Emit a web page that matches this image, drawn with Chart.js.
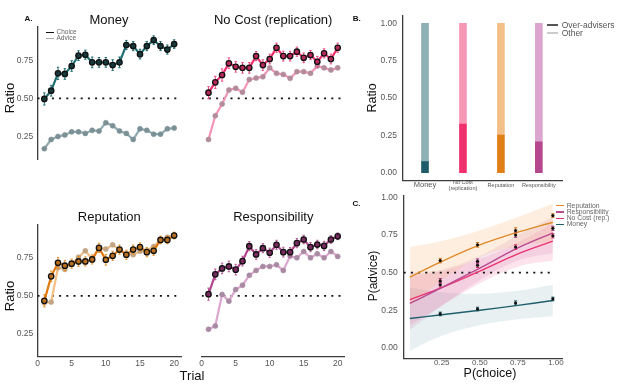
<!DOCTYPE html>
<html><head><meta charset="utf-8">
<script src="https://cdn.jsdelivr.net/npm/chart.js@4.4.1/dist/chart.umd.min.js"></script>
<style>
body{margin:0;background:#fff;}
#wrap{position:relative;width:630px;height:387px;overflow:hidden;font-family:"Liberation Sans",Arial,sans-serif;color:#111;}
canvas{position:absolute;}
.t{position:absolute;white-space:nowrap;transform:translate(-50%,-50%);line-height:1;}
.r{transform:translate(-50%,-50%) rotate(-90deg);}
.lg{position:absolute;white-space:nowrap;transform:translateY(-50%);line-height:1;color:#666;}
.ln{position:absolute;}
</style></head>
<body><div id="wrap">
<canvas id="a1" width="190" height="175" style="left:0;top:0;width:190px;height:175px"></canvas>
<canvas id="a2" width="170" height="175" style="left:190px;top:0;width:170px;height:175px"></canvas>
<canvas id="a3" width="190" height="197" style="left:0;top:190px;width:190px;height:197px"></canvas>
<canvas id="a4" width="170" height="197" style="left:190px;top:190px;width:170px;height:197px"></canvas>
<canvas id="b" width="275" height="195" style="left:355px;top:0;width:275px;height:195px"></canvas>
<canvas id="c" width="275" height="195" style="left:355px;top:192px;width:275px;height:195px"></canvas>

<div class="t" style="left:28.5px;top:18.7px;font-size:8px;font-weight:bold">A.</div>
<div class="t" style="left:356.7px;top:19.3px;font-size:8px;font-weight:bold">B.</div>
<div class="t" style="left:356.5px;top:204.3px;font-size:8px;font-weight:bold">C.</div>

<div class="t" style="left:109px;top:18.5px;font-size:13px">Money</div>
<div class="t" style="left:273.2px;top:18.5px;font-size:13px">No Cost (replication)</div>
<div class="t" style="left:109.3px;top:216px;font-size:13px">Reputation</div>
<div class="t" style="left:273.3px;top:216px;font-size:13px">Responsibility</div>
<div class="t r" style="left:8.5px;top:98px;font-size:13px">Ratio</div>
<div class="t r" style="left:8.5px;top:296px;font-size:13px">Ratio</div>
<div class="t" style="left:192px;top:374.5px;font-size:13px">Trial</div>
<div class="t r" style="left:371.7px;top:98px;font-size:12.5px">Ratio</div>
<div class="t r" style="left:373px;top:276px;font-size:12px">P(advice)</div>
<div class="t" style="left:490px;top:373px;font-size:12.5px">P(choice)</div>

<div class="ln" style="left:45.7px;top:31.6px;width:8.6px;height:1.5px;background:#111"></div>
<div class="lg" style="left:56.5px;top:32.3px;font-size:6.5px">Choice</div>
<div class="ln" style="left:45.7px;top:37.6px;width:8.6px;height:1.5px;background:#aaa"></div>
<div class="lg" style="left:56.5px;top:38.3px;font-size:6.5px">Advice</div>

<div class="ln" style="left:546.7px;top:24px;width:11.3px;height:2px;background:#555"></div>
<div class="lg" style="left:561.7px;top:25px;font-size:8.5px;color:#555">Over-advisers</div>
<div class="ln" style="left:546.7px;top:31.7px;width:11.3px;height:2px;background:#ccc"></div>
<div class="lg" style="left:561.7px;top:32.7px;font-size:8.5px;color:#555">Other</div>

<div class="ln" style="left:555.7px;top:205px;width:8.6px;height:1.4px;background:#E08A2A"></div>
<div class="lg" style="left:566.7px;top:205.7px;font-size:6.8px;color:#666">Reputation</div>
<div class="ln" style="left:555.7px;top:211.3px;width:8.6px;height:1.4px;background:#B84A92"></div>
<div class="lg" style="left:566.7px;top:212px;font-size:6.8px;color:#666">Responsibility</div>
<div class="ln" style="left:555.7px;top:217.6px;width:8.6px;height:1.4px;background:#EC3370"></div>
<div class="lg" style="left:566.7px;top:218.3px;font-size:6.8px;color:#666">No Cost (rep.)</div>
<div class="ln" style="left:555.7px;top:223.6px;width:8.6px;height:1.4px;background:#1F5F6B"></div>
<div class="lg" style="left:566.7px;top:224.3px;font-size:6.8px;color:#666">Money</div>
</div>
<script>
// ---------- Panel A data ----------
const trials = [1,2,3,4,5,6,7,8,9,10,11,12,13,14,15,16,17,18,19,20];
const trialTicks = [0,5,10,15,20];
const ratioTicks = [0.25,0.5,0.75];

const moneyChoice = [0.496,0.55,0.664,0.66,0.712,0.78,0.786,0.736,0.736,0.736,0.718,0.736,0.85,0.843,0.79,0.843,0.882,0.843,0.82,0.856];
const moneyChoiceErr = [0.04,0.035,0.04,0.035,0.035,0.032,0.03,0.035,0.032,0.032,0.035,0.035,0.03,0.03,0.032,0.03,0.028,0.03,0.03,0.028];
const moneyAdvice = [0.17,0.23,0.25,0.26,0.28,0.28,0.27,0.29,0.285,0.34,0.32,0.285,0.27,0.23,0.30,0.29,0.265,0.265,0.30,0.305];

const noCostChoice = [0.537,0.605,0.653,0.73,0.707,0.70,0.70,0.777,0.718,0.758,0.832,0.777,0.777,0.806,0.766,0.784,0.74,0.795,0.758,0.832];
const noCostChoiceErr = [0.04,0.04,0.04,0.035,0.035,0.035,0.035,0.03,0.035,0.032,0.03,0.032,0.032,0.03,0.032,0.03,0.035,0.03,0.032,0.03];
const noCostAdvice = [0.23,0.386,0.463,0.555,0.566,0.54,0.624,0.633,0.642,0.70,0.664,0.657,0.631,0.675,0.675,0.664,0.712,0.70,0.686,0.70];

const reputationChoice = [0.467,0.628,0.717,0.698,0.711,0.726,0.726,0.739,0.815,0.737,0.763,0.804,0.77,0.804,0.82,0.787,0.796,0.867,0.867,0.896];
const reputationChoiceErr = [0.04,0.035,0.035,0.035,0.03,0.032,0.03,0.03,0.03,0.035,0.03,0.03,0.03,0.03,0.028,0.03,0.03,0.025,0.025,0.022];
const reputationAdvice = [0.454,0.459,0.685,0.674,0.711,0.754,0.796,0.743,0.815,0.807,0.835,0.804,0.776,0.77,0.793,0.798,0.824,0.867,0.885,0.90];

const responsibilityChoice = [0.511,0.641,0.68,0.693,0.672,0.728,0.826,0.772,0.813,0.783,0.835,0.787,0.787,0.846,0.87,0.82,0.837,0.828,0.87,0.891];
const responsibilityChoiceErr = [0.04,0.035,0.035,0.035,0.035,0.032,0.03,0.032,0.03,0.03,0.03,0.032,0.03,0.03,0.028,0.03,0.028,0.03,0.025,0.022];
const responsibilityAdvice = [0.28,0.302,0.509,0.465,0.541,0.57,0.635,0.667,0.693,0.693,0.704,0.667,0.761,0.75,0.791,0.75,0.776,0.75,0.791,0.759];

// ---------- Panel B data ----------
const groups = ['Money','No Cost (replication)','Reputation','Responsibility'];
const groupPos = [1,2,3,4];
const overAdvisers = [0.074,0.326,0.252,0.207];
const otherShare = [0.926,0.674,0.748,0.793];
const shareTicks = [0,0.25,0.5,0.75,1];

// ---------- Panel C data ----------
const pChoiceTicks = [0.25,0.5,0.75,1];
const pAdviceTicks = [0,0.25,0.5,0.75,1];
const pChoiceObs = [0.24,0.485,0.735,0.98];
const obsReputation = [0.58,0.685,0.78,0.88];
const obsReputationErr = [0.015,0.015,0.018,0.012];
const obsResponsibility = [0.445,0.575,0.75,0.795];
const obsResponsibilityErr = [0.016,0.016,0.015,0.014];
const obsNoCost = [0.42,0.55,0.67,0.745];
const obsNoCostErr = [0.016,0.016,0.015,0.014];
const obsMoney = [0.225,0.258,0.298,0.325];
const obsMoneyErr = [0.012,0.012,0.014,0.012];

const pChoiceFit = [0.04,0.25,0.5,0.75,0.98];
const fitReputation = [0.47,0.575,0.685,0.77,0.835];
const fitResponsibility = [0.295,0.40,0.53,0.665,0.765];
const fitNoCost = [0.32,0.40,0.51,0.625,0.71];
const fitMoney = [0.195,0.22,0.25,0.282,0.315];
const bandReputationLo = [0.28,0.45,0.60,0.68,0.70];
const bandReputationHi = [0.67,0.71,0.78,0.87,0.96];
const bandResponsibilityLo = [0.12,0.28,0.45,0.58,0.63];
const bandResponsibilityHi = [0.50,0.52,0.61,0.75,0.87];
const bandNoCostLo = [0.15,0.28,0.43,0.54,0.58];
const bandNoCostHi = [0.48,0.51,0.59,0.70,0.83];
const bandMoneyLo = [-0.02,0.08,0.15,0.19,0.21];
const bandMoneyHi = [0.40,0.37,0.36,0.38,0.42];

// ---------- helpers ----------
const xy = (xs, ys) => xs.map((x, i) => ({x: x, y: ys[i]}));

const errorBarPlugin = {
  id: 'errBars',
  beforeDatasetDraw(chart, args) {
    const ds = chart.data.datasets[args.index];
    if (!ds.errors) return;
    const ys = chart.scales.y, ctx = chart.ctx;
    ctx.save();
    ctx.strokeStyle = ds.errorColor;
    ctx.lineWidth = ds.errorWidth || 1;
    args.meta.data.forEach((pt, i) => {
      const v = ds.data[i].y, e = ds.errors[i];
      const y1 = ys.getPixelForValue(v - e), y2 = ys.getPixelForValue(v + e);
      const x = pt.x, c = ds.errorCap || 0;
      ctx.beginPath();
      ctx.moveTo(x, y1); ctx.lineTo(x, y2);
      if (c) { ctx.moveTo(x - c, y1); ctx.lineTo(x + c, y1); ctx.moveTo(x - c, y2); ctx.lineTo(x + c, y2); }
      ctx.stroke();
    });
    ctx.restore();
  }
};
Chart.register(errorBarPlugin);
Chart.defaults.font.family = '"Liberation Sans", Arial, sans-serif';
Chart.defaults.color = '#555';
Chart.defaults.animation = false;
Chart.defaults.plugins.legend.display = false;
Chart.defaults.plugins.tooltip.enabled = false;
Chart.defaults.events = [];

const axisBorder = {display: true, color: '#3d3d3d', width: 1.3};
const noGrid = {display: false, drawTicks: false};

function trialPanel(id, cfg) {
  const y = cfg.showY ? {
    display: true, min: 0.1, max: 0.97,
    afterBuildTicks: s => { s.ticks = ratioTicks.map(v => ({value: v})); },
    afterFit: s => { s.width = 37.5; s.paddingTop = 0; s.paddingBottom = 0; },
    grid: noGrid, border: axisBorder,
    ticks: {padding: 4.2, font: {size: 8.5}, color: '#555', callback: v => v.toFixed(2)}
  } : {display: false, min: 0.1, max: 0.97};
  const x = cfg.showX ? {
    type: 'linear', display: true, min: 0, max: 21,
    afterBuildTicks: s => { s.ticks = trialTicks.map(v => ({value: v})); },
    afterFit: s => { s.height = 30.3; s.paddingLeft = 0; s.paddingRight = 0; },
    grid: noGrid, border: axisBorder,
    ticks: {padding: 1.5, font: {size: 8.5}, color: '#555', maxRotation: 0, autoSkip: false}
  } : {type: 'linear', display: false, min: 0, max: 21};
  new Chart(document.getElementById(id), {
    type: 'line',
    data: {datasets: [
      {data: xy(trials, cfg.choice), errors: cfg.choiceErr, errorColor: cfg.errColor, errorWidth: 1, errorCap: 1.2,
       borderColor: cfg.choiceLine, borderWidth: 2.2, pointRadius: 2.7, pointBorderWidth: 1.3,
       pointBorderColor: '#111', pointBackgroundColor: cfg.choiceFill, order: 0},
      {data: xy(trials, cfg.advice), borderColor: cfg.adviceLine, borderWidth: 2.2, pointRadius: 2.5,
       pointBorderWidth: 0.6, pointBorderColor: cfg.adviceMark, pointBackgroundColor: cfg.adviceMark, order: 1},
      {data: [{x: 0, y: 0.5}, {x: 21, y: 0.5}], borderColor: '#111', borderWidth: 1.8, borderDash: [2, 5.2],
       pointRadius: 0, order: 3}
    ]},
    options: {responsive: false, devicePixelRatio: 1, layout: {padding: cfg.pad}, scales: {x: x, y: y}}
  });
}

trialPanel('a1', {choice: moneyChoice, choiceErr: moneyChoiceErr, advice: moneyAdvice,
  choiceLine: '#1F6E72', choiceFill: '#17393C', errColor: '#1F6E72', adviceLine: '#8FAAB0', adviceMark: '#7C9196',
  showY: true, showX: false, pad: {left: 0, top: 26.7, right: 9, bottom: 15.7}});
trialPanel('a2', {choice: noCostChoice, choiceErr: noCostChoiceErr, advice: noCostAdvice,
  choiceLine: '#EC2F6B', choiceFill: '#B8285A', errColor: '#EE4C80', adviceLine: '#F494B8', adviceMark: '#B28C9B',
  showY: false, showX: false, pad: {left: 11.7, top: 26.7, right: 15.5, bottom: 15.7}});
trialPanel('a3', {choice: reputationChoice, choiceErr: reputationChoiceErr, advice: reputationAdvice,
  choiceLine: '#E07A10', choiceFill: '#B8701F', errColor: '#E8932E', adviceLine: '#F4BE85', adviceMark: '#C2A683',
  showY: true, showX: true, pad: {left: 0, top: 34.3, right: 9, bottom: 0}});
trialPanel('a4', {choice: responsibilityChoice, choiceErr: responsibilityChoiceErr, advice: responsibilityAdvice,
  choiceLine: '#B0468C', choiceFill: '#7A2A60', errColor: '#B95A98', adviceLine: '#DCA6CF', adviceMark: '#A98AA3',
  showY: false, showX: true, pad: {left: 11.7, top: 34.3, right: 15.5, bottom: 0}});

// ---------- Panel B ----------
const darkCols = ['#1F5D6B', '#F0306D', '#E07F16', '#B5478E'];
const lightCols = ['#8DB0B5', '#F797B6', '#F1BF87', '#DBA5CF'];
new Chart(document.getElementById('b'), {
  type: 'bar',
  data: {datasets: [
    {label: 'Over-advisers', data: xy(groupPos, overAdvisers), backgroundColor: darkCols, barThickness: 7, stack: 's'},
    {label: 'Other', data: xy(groupPos, otherShare), backgroundColor: lightCols, barThickness: 7, stack: 's'}
  ]},
  options: {
    responsive: false, devicePixelRatio: 1,
    layout: {padding: {left: 0, top: 15.8, right: 68, bottom: 0}},
    scales: {
      x: {type: 'linear', stacked: true, min: 0.42, max: 4.61, offset: false,
        afterBuildTicks: s => { s.ticks = groupPos.map(v => ({value: v})); },
        afterFit: s => { s.height = 14.8; s.paddingLeft = 0; s.paddingRight = 0; },
        grid: noGrid, border: axisBorder,
        ticks: {padding: 0, maxRotation: 0, autoSkip: false, color: '#555',
          font: ctx => {
            const v = ctx.tick ? ctx.tick.value : 1;
            if (v === 1) return {size: 7.5, lineHeight: 1.25};
            if (v === 2) return {size: 5.5, lineHeight: 1.0};
            return {size: 5.5, lineHeight: 2.0};
          },
          callback: v => {
            const g = groups[groupPos.indexOf(v)] || '';
            const k = g.indexOf(' (');
            return k > 0 ? [g.slice(0, k), g.slice(k + 1)] : g;
          }}},
      y: {stacked: true, min: -0.05, max: 1.05,
        afterBuildTicks: s => { s.ticks = shareTicks.map(v => ({value: v})); },
        afterFit: s => { s.width = 48; s.paddingTop = 0; s.paddingBottom = 0; },
        grid: noGrid, border: axisBorder,
        ticks: {padding: 6, font: {size: 8.5}, color: '#555', callback: v => v.toFixed(2)}}
    }
  }
});

// ---------- Panel C ----------
function fitLine(ys, col) {
  return {data: xy(pChoiceFit, ys), borderColor: col, borderWidth: 1.4, pointRadius: 0, tension: 0.35, fill: false, order: 1};
}
function band(ys, col, target) {
  return {data: xy(pChoiceFit, ys), borderWidth: 0, borderColor: 'rgba(0,0,0,0)', pointRadius: 0, tension: 0.35,
    fill: target === undefined ? false : {target: target}, backgroundColor: col, order: 10};
}
function obs(ys, errs, col) {
  return {data: xy(pChoiceObs, ys), showLine: false, pointRadius: 1.6, pointBackgroundColor: '#111',
    pointBorderColor: '#111', pointBorderWidth: 0, errors: errs, errorColor: col, errorWidth: 1, errorCap: 1.6, order: 0};
}
new Chart(document.getElementById('c'), {
  type: 'line',
  data: {datasets: [
    obs(obsReputation, obsReputationErr, '#C87418'),
    obs(obsResponsibility, obsResponsibilityErr, '#A03A7E'),
    obs(obsNoCost, obsNoCostErr, '#D62A62'),
    obs(obsMoney, obsMoneyErr, '#1F5F6B'),
    fitLine(fitReputation, '#E08A2A'),
    fitLine(fitResponsibility, '#B84A92'),
    fitLine(fitNoCost, '#EC3370'),
    fitLine(fitMoney, '#1F5F6B'),
    band(bandReputationLo),
    band(bandReputationHi, 'rgba(246,176,110,0.22)', 8),
    band(bandResponsibilityLo),
    band(bandResponsibilityHi, 'rgba(200,110,170,0.17)', 10),
    band(bandNoCostLo),
    band(bandNoCostHi, 'rgba(240,90,140,0.17)', 12),
    band(bandMoneyLo),
    band(bandMoneyHi, 'rgba(140,180,190,0.20)', 14),
    {data: [{x: 0, y: 0.5}, {x: 0.96, y: 0.5}], borderColor: '#111', borderWidth: 1.8, borderDash: [2, 5.2], pointRadius: 0, order: 2}
  ]},
  options: {
    responsive: false, devicePixelRatio: 1,
    layout: {padding: {left: 0, top: 3.2, right: 68, bottom: 0}},
    scales: {
      x: {type: 'linear', min: 0, max: 1.04,
        afterBuildTicks: s => { s.ticks = pChoiceTicks.map(v => ({value: v})); },
        afterFit: s => { s.height = 28.7; s.paddingLeft = 0; s.paddingRight = 0; },
        grid: noGrid, border: axisBorder,
        ticks: {padding: 0, font: {size: 8}, color: '#555', maxRotation: 0, autoSkip: false, callback: v => v.toFixed(2)}},
      y: {min: -0.07, max: 1.01,
        afterBuildTicks: s => { s.ticks = pAdviceTicks.map(v => ({value: v})); },
        afterFit: s => { s.width = 48.7; s.paddingTop = 0; s.paddingBottom = 0; },
        grid: noGrid, border: axisBorder,
        ticks: {padding: 6, font: {size: 8.5}, color: '#555', callback: v => v.toFixed(2)}}
    }
  }
});
</script>
</body></html>
